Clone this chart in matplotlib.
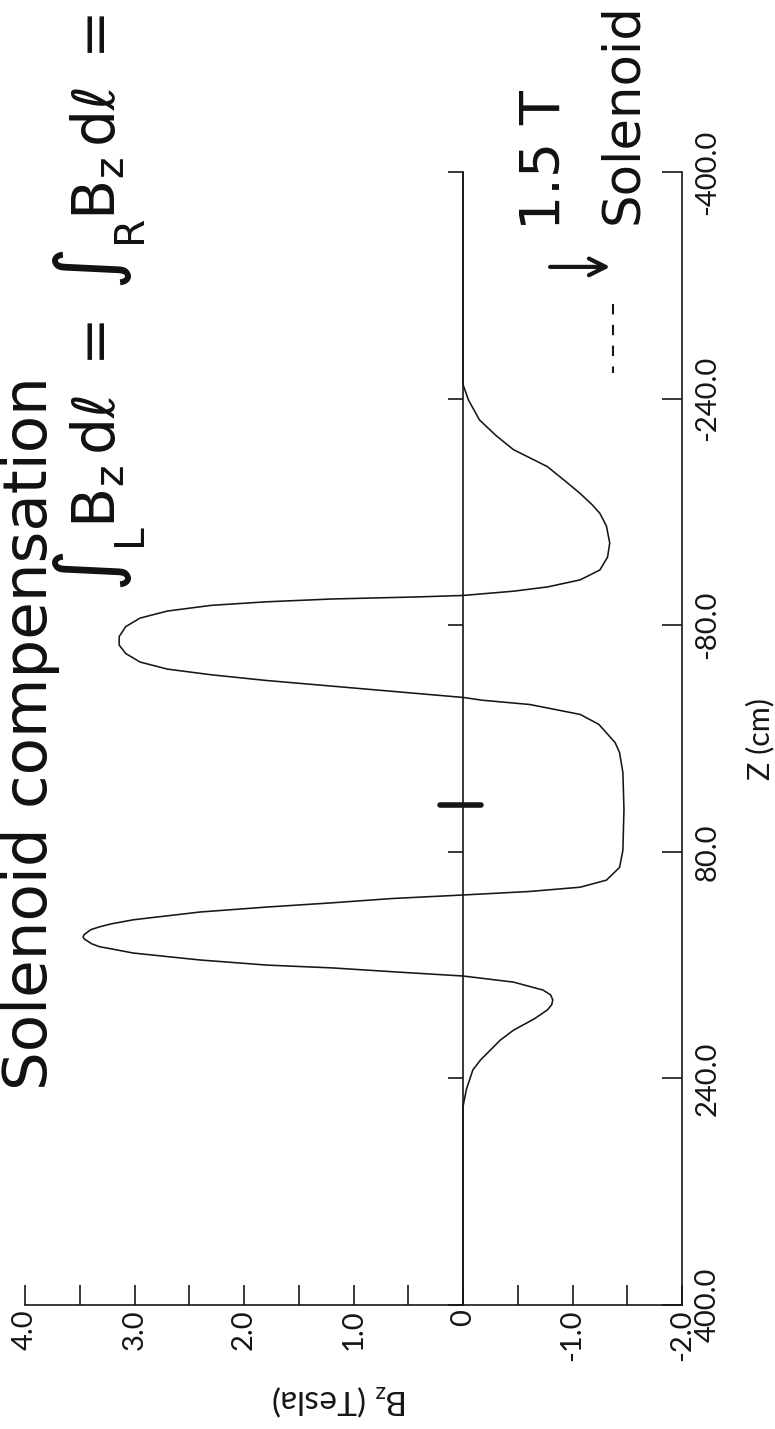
import matplotlib
matplotlib.use("Agg")
import matplotlib.pyplot as plt

# ---------------- data ----------------
z_cm = [-400, -300, -250, -239, -225, -214, -204, -192, -182, -173, -165, -159,
        -150, -138, -128, -119, -112, -107, -104, -101,
        -100, -98.5, -96.5, -94, -90, -85, -79, -72, -66, -60, -54, -49, -45, -41, -37, -33,
        -29, -27, -24, -17, -10, -4, 3, 10, 24, 50,
        79, 91, 100, 105, 108, 110.5, 113, 116, 119, 122.5, 128, 131, 133, 135, 138.5, 140,
        141.5, 145, 147, 149, 151.5, 156.4, 160, 162, 165, 167.7, 172, 177.6, 181, 184.6, 188,
        191.7, 198, 206, 213, 220, 227, 234, 248, 260, 320, 400]
bz_tesla = [0, 0, 0, -0.05, -0.15, -0.30, -0.46, -0.77, -0.93, -1.07, -1.18, -1.25,
            -1.31, -1.34, -1.32, -1.25, -1.07, -0.77, -0.46, 0.0,
            0.4, 1.2, 1.8, 2.3, 2.7, 2.95, 3.08, 3.14, 3.14, 3.08, 2.95, 2.7, 2.3, 1.8, 1.2, 0.6,
            0.0, -0.18, -0.61, -1.07, -1.24, -1.31, -1.39, -1.43, -1.46, -1.47,
            -1.46, -1.43, -1.31, -1.07, -0.61, 0.0, 0.65, 1.19, 1.79, 2.40, 3.01, 3.22, 3.32, 3.40, 3.46, 3.47,
            3.46, 3.39, 3.32, 3.18, 3.01, 2.40, 1.79, 1.19, 0.58, 0.0, -0.46, -0.73, -0.80, -0.82, -0.81,
            -0.77, -0.65, -0.46, -0.34, -0.25, -0.16, -0.09, -0.03, 0, 0, 0]

bz_major = [4, 3, 2, 1, 0, -1, -2]
bz_major_labels = ["4.0", "3.0", "2.0", "1.0", "0", "-1.0", "-2.0"]
bz_minor = [3.5, 2.5, 1.5, 0.5, -0.5, -1.5]
z_ticks = [-400, -240, -80, 80, 240, 400]
z_tick_labels = ["-400.0", "-240.0", "-80.0", "80.0", "240.0", "400.0"]

# hand-drawn annotations (data coordinates)
mark_z = 47
mark_bz = [0.21, -0.16]
arrow_z = -333
arrow_bz = [-0.77, -1.37]
dash_bz = -1.37
dash_z = [-307, -258]

INK = "#161616"
W, H = 775, 1429
plt.rcParams["mathtext.default"] = "regular"
tick_font = dict(family=["Lato", "DejaVu Sans"], weight="normal")

fig = plt.figure(figsize=(W / 100, H / 100), dpi=100)
ax = fig.add_axes([25 / W, 1 - 1305 / H, 657 / W, 1133 / H])
ax.set_xlim(4, -2)
ax.set_ylim(400, -400)

for s in ("top", "left"):
    ax.spines[s].set_visible(False)
for s in ("bottom", "right"):
    ax.spines[s].set_linewidth(1.2)
    ax.spines[s].set_color(INK)

# curve
ax.plot(bz_tesla, z_cm, color=INK, lw=1.15, solid_joinstyle="round")

# Bz axis (bottom)
ax.set_xticks(bz_major, bz_major_labels, rotation=90, fontsize=21, **tick_font)
ax.set_xticks(bz_minor, minor=True)
ax.tick_params(axis="x", which="both", direction="in", length=14.4, width=1.2,
               color=INK, pad=3, labelcolor=INK)

# Z axis (right)
ax.yaxis.tick_right()
ax.set_yticks(z_ticks, z_tick_labels, rotation=90, fontsize=21, **tick_font)
ax.tick_params(axis="y", which="both", direction="in", length=14.4, width=1.2,
               color=INK, pad=9, labelcolor=INK)
for lab in ax.get_yticklabels():
    lab.set_va("center")

# zero line as a secondary axis with ticks pointing left
sec = ax.secondary_yaxis(2 / 3)
sec.set_yticks(z_ticks)
sec.tick_params(axis="y", direction="in", length=11, width=1.2, color=INK,
                labelright=False, labelleft=False)
sec.spines["right"].set_linewidth(1.2)
sec.spines["right"].set_color(INK)

# axis labels
ax.set_ylabel("Z (cm)", fontsize=22, color=INK, **tick_font)
ax.yaxis.set_label_position("right")
ax.yaxis.set_label_coords((760 - 25) / 657, 0.5)
ax.yaxis.label.set(rotation=90, ha="center", va="center")
ax.set_xlabel("B$_z$ (Tesla)", fontsize=24, color=INK, rotation=180, **tick_font)
ax.xaxis.set_label_coords((340 - 25) / 657, (1305 - 1400) / 1133)
ax.xaxis.label.set(ha="center", va="center")

# hand-drawn marks
ax.plot(mark_bz, [mark_z, mark_z], color=INK, lw=4, solid_capstyle="round")
ax.annotate("", xy=(arrow_bz[1], arrow_z), xytext=(arrow_bz[0], arrow_z),
            arrowprops=dict(arrowstyle="->", lw=3, color=INK, mutation_scale=30))
ax.plot([dash_bz, dash_bz], dash_z, color=INK, lw=1.5, ls=(0, (5, 5)))

# handwritten texts (rotated, reading bottom to top)
hand = dict(rotation=90, rotation_mode="anchor", ha="left", va="baseline", color="#111111",
            family="DejaVu Sans")
fig.text(47 / W, 1 - 1090 / H, "Solenoid compensation", fontsize=44, **hand)
fig.text(115 / W, 1 - 592 / H, r"$\int_L B_z\,d\ell\;=\;\int_R B_z\,d\ell\;=$", fontsize=42, **hand)
fig.text(560 / W, 1 - 230 / H, "1.5 T", fontsize=40, **hand)
fig.text(637 / W, 1 - 224 / H, "Solenoid", fontsize=37, **hand)

fig.savefig("out.png", dpi=100, facecolor="white")
